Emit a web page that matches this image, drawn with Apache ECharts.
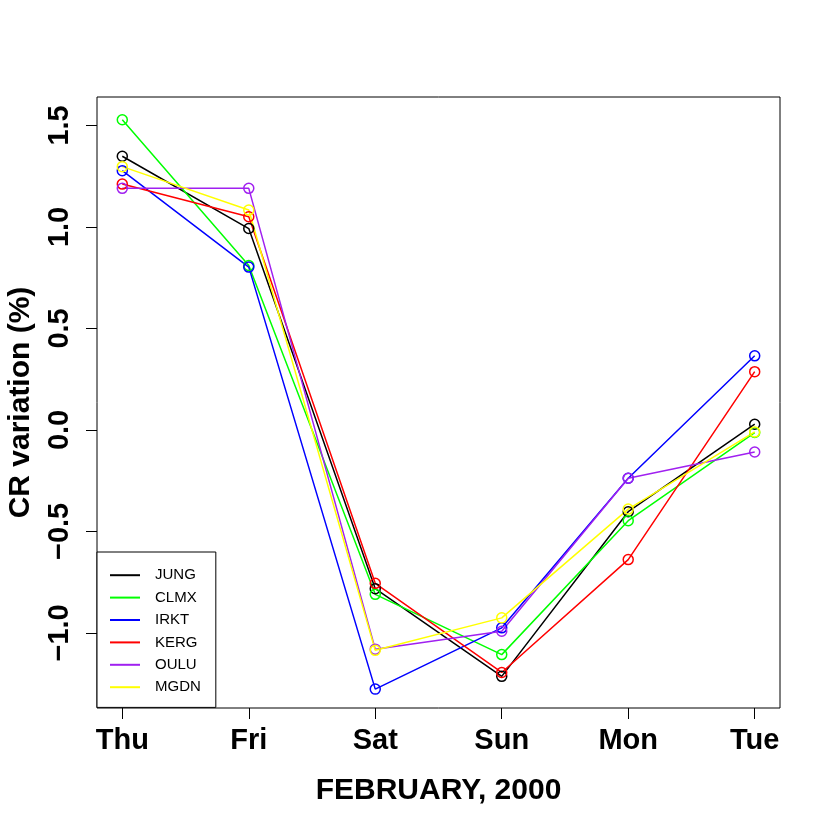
<!DOCTYPE html>
<html>
<head>
<meta charset="UTF-8">
<script src="https://cdn.jsdelivr.net/npm/echarts@6/dist/echarts.min.js"></script>
<style>
  html, body { margin: 0; padding: 0; background: #fff; }
  #chart { width: 830px; height: 830px; }
</style>
</head>
<body>
<div id="chart"></div>
<script>
// days along the x axis
var days = ['Thu', 'Fri', 'Sat', 'Sun', 'Mon', 'Tue'];
var yTicks = [-1.0, -0.5, 0.0, 0.5, 1.0, 1.5];

// CR variation (%) per station
var jung = [1.348, 0.992, -0.782, -1.214, -0.403, 0.028];
var clmx = [1.528, 0.810, -0.810, -1.107, -0.447, -0.013];
var irkt = [1.277, 0.802, -1.277, -0.975, -0.238, 0.365];
var kerg = [1.211, 1.050, -0.756, -1.195, -0.639, 0.287];
var oulu = [1.190, 1.190, -1.080, -0.992, -0.238, -0.109];
var mgdn = [1.297, 1.083, -1.086, -0.926, -0.390, -0.010];

var names = ['JUNG', 'CLMX', 'IRKT', 'KERG', 'OULU', 'MGDN'];
var colors = ['#000000', '#00FF00', '#0000FF', '#FF0000', '#A020F0', '#FFFF00'];
var values = [jung, clmx, irkt, kerg, oulu, mgdn];

var font = 'Liberation Sans, Arial, sans-serif';

var series = [];
for (var i = 0; i < names.length; i++) {
    var pts = [];
    for (var j = 0; j < days.length; j++) {
        pts.push([j + 1, values[i][j]]);
    }
    series.push({
        name: names[i],
        type: 'line',
        data: pts,
        symbol: 'circle',
        symbolSize: 10,
        lineStyle: { color: colors[i], width: 1.5 },
        itemStyle: { color: 'rgba(0,0,0,0)', borderColor: colors[i], borderWidth: 1.5 }
    });
}

var legendData = names.map(function (n, i) {
    return { name: n, itemStyle: { color: colors[i], borderWidth: 0 } };
});

var myChart = echarts.init(document.getElementById('chart'));
var option = {
    animation: false,
    backgroundColor: '#fff',
    grid: {
        left: 97, right: 50, top: 97, bottom: 122,
        outerBoundsMode: 'none',
        containLabel: false,
        show: true, borderColor: '#000', borderWidth: 1
    },
    legend: {
        data: legendData,
        orient: 'vertical',
        left: 97, top: 552,
        padding: [12, 15, 9, 13],
        borderColor: '#000', borderWidth: 1,
        backgroundColor: '#fff',
        icon: 'rect',
        itemWidth: 30, itemHeight: 2,
        itemGap: 0,
        textStyle: { fontFamily: font, fontSize: 15, color: '#000', lineHeight: 22.4, padding: [0, 0, 0, 10] }
    },
    xAxis: {
        type: 'value',
        min: 0.8, max: 6.2,
        name: 'FEBRUARY, 2000',
        nameLocation: 'middle',
        nameGap: 68,
        nameTextStyle: { fontFamily: font, fontSize: 30, fontWeight: 'bold', color: '#000' },
        axisLine: { show: false, onZero: false },
        splitLine: { show: false },
        axisTick: { show: true, length: 11, customValues: [1, 2, 3, 4, 5, 6], lineStyle: { color: '#000' } },
        axisLabel: {
            customValues: [1, 2, 3, 4, 5, 6],
            margin: 18,
            fontFamily: font, fontSize: 29, fontWeight: 'bold', color: '#000',
            formatter: function (v) { return days[Math.round(v) - 1]; }
        }
    },
    yAxis: {
        type: 'value',
        min: -1.37, max: 1.64,
        name: 'CR variation (%)',
        nameLocation: 'middle',
        nameRotate: 90,
        nameGap: 61,
        nameTextStyle: { fontFamily: font, fontSize: 30, fontWeight: 'bold', color: '#000' },
        axisLine: { show: false, onZero: false },
        splitLine: { show: false },
        axisTick: { show: true, length: 11, customValues: yTicks, lineStyle: { color: '#000' } },
        axisLabel: {
            customValues: yTicks,
            rotate: 90,
            margin: 23,
            fontFamily: font, fontSize: 29, fontWeight: 'bold', color: '#000',
            formatter: function (v) { return v.toFixed(1).replace('-', '\u2212'); }
        }
    },
    series: series
};
myChart.setOption(option);
</script>
</body>
</html>
